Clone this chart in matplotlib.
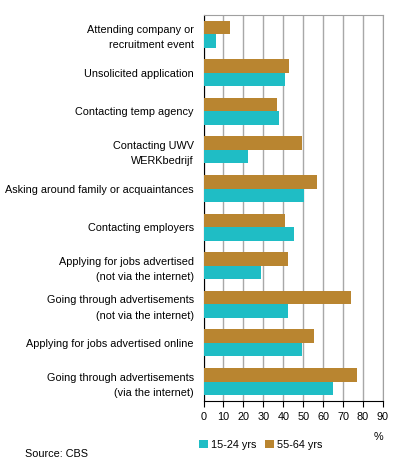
import matplotlib
matplotlib.use("Agg")
import matplotlib.pyplot as plt
import numpy as np

plt.rcParams['font.family'] = ['Liberation Sans', 'DejaVu Sans']

categories = [
    "Attending company or\nrecruitment event",
    "Unsolicited application",
    "Contacting temp agency",
    "Contacting UWV\nWERKbedrijf",
    "Asking around family or acquaintances",
    "Contacting employers",
    "Applying for jobs advertised\n(not via the internet)",
    "Going through advertisements\n(not via the internet)",
    "Applying for jobs advertised online",
    "Going through advertisements\n(via the internet)",
]
young = [6.3, 40.8, 37.8, 22.3, 50.3, 45.3, 28.8, 42.3, 49.3, 64.8]
old = [13.3, 42.7, 36.8, 49.3, 56.8, 40.8, 42.3, 73.8, 55.3, 76.8]
xticks = [0, 10, 20, 30, 40, 50, 60, 70, 80, 90]

teal = "#1fbdc5"
brown = "#b98530"
fs = 7.85

fig = plt.figure(figsize=(3.96, 4.65), dpi=100)
ax = fig.add_axes([0.514, 0.138, 0.453, 0.83])

y = np.arange(len(categories))
h = 0.35
ax.barh(y - h / 2, old, height=h, color=brown, label="55-64 yrs", zorder=3)
ax.barh(y + h / 2, young, height=h, color=teal, label="15-24 yrs", zorder=3)

ax.set_ylim(len(categories) - 0.5, -0.5)
ax.set_xlim(0, 90)
ax.set_xticks(xticks)
ax.set_xticklabels([str(t) for t in xticks], fontsize=fs)
ax.set_yticks(y)
ax.set_yticklabels(categories, fontsize=fs, linespacing=1.65)
ax.tick_params(axis='y', length=0, pad=7)
ax.tick_params(axis='x', length=4, direction='out', pad=4, color='black')

ax.grid(axis='x', color='#a8a8a8', linewidth=1, zorder=0)
for s in ['top', 'right']:
    ax.spines[s].set_color('#a0a0a0')
for s in ['left', 'bottom']:
    ax.spines[s].set_color('black')

fig.text(378 / 396, 1 - 437 / 465, "%", fontsize=fs, ha='center', va='center')
fig.text(25 / 396, 1 - 454 / 465, "Source: CBS", fontsize=fs, ha='left', va='center')

handles, labels = ax.get_legend_handles_labels()
fig.legend(handles[::-1], labels[::-1], loc='center left',
           bbox_to_anchor=(199 / 396, 1 - 445 / 465), ncol=2, frameon=False,
           fontsize=fs, handlelength=0.8, handleheight=0.8, handletextpad=0.3,
           columnspacing=0.8, borderaxespad=0, borderpad=0)

fig.savefig("out.png", dpi=100)
